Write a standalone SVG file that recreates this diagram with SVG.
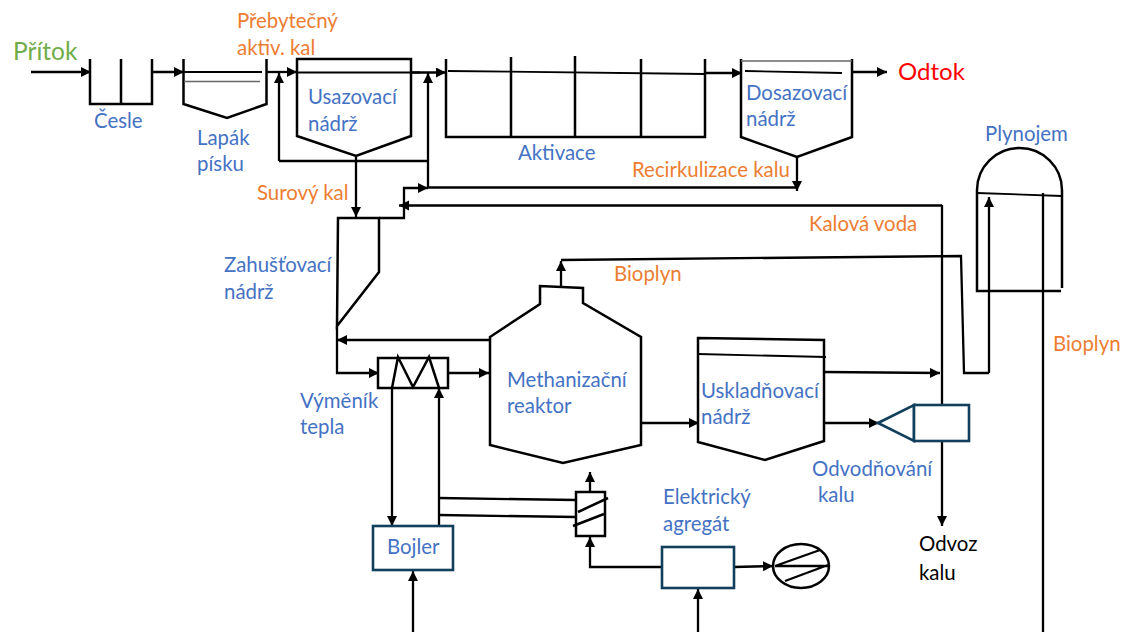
<svg xmlns="http://www.w3.org/2000/svg" width="1123" height="632" viewBox="0 0 1123 632">
<style>
text{font-family:Lato,"Liberation Sans",sans-serif;font-size:20.400px}
.b{fill:#4472c4}.o{fill:#ed7d31}.k{fill:#000}
.s{fill:none;stroke:#000;stroke-width:2.500}
.t{fill:none;stroke:#000;stroke-width:1.800}
.g{fill:none;stroke:#666;stroke-width:1.600}
.d{fill:#fff;stroke:#123f5c;stroke-width:2.600}
.c{fill:none;stroke:#000;stroke-width:2.300;marker-end:url(#a)}
.n{fill:none;stroke:#000;stroke-width:2.300}
</style>
<defs><marker id="a" markerUnits="userSpaceOnUse" markerWidth="12" markerHeight="12" refX="10" refY="5" orient="auto"><path d="M0 0L10 5L0 10Z" fill="#000"/></marker></defs>
<rect width="1123" height="632" fill="#fff"/>
<g id="connectors">
<path class="c" d="M31 72H91"/>
<path class="c" d="M151 72H184"/>
<path class="c" d="M267 72H297"/>
<path class="t" d="M297 72.500H420"/>
<path class="c" d="M411 72.500H446"/>
<path class="c" d="M279 161V73"/>
<path class="n" d="M279 161H428"/>
<path class="c" d="M428 188V73"/>
<path class="c" d="M356 157V217"/>
<path class="c" d="M379 218H404V188H428"/>
<path class="n" d="M428 187.500H797"/>
<path class="c" d="M797 157V191"/>
<path class="c" d="M942 205.500H399"/>
<path class="n" d="M942 205V405"/>
<path class="c" d="M942 441V526"/>
<path class="c" d="M490 340H337"/>
<path class="c" d="M337 326V373H379"/>
<path class="c" d="M448 373H489"/>
<path class="c" d="M392 388V526"/>
<path class="c" d="M439 526V388"/>
<path class="c" d="M413 632V571"/>
<path class="c" d="M698 632V589"/>
<path class="n" d="M439 498L576 500"/>
<path class="n" d="M439 515L576 517"/>
<path class="c" d="M590 492V472"/>
<path class="c" d="M662 567H590V537"/>
<path class="c" d="M734 567L773 566"/>
<path class="c" d="M641 423H699"/>
<path class="c" d="M824 372L940 373"/>
<path class="c" d="M824 423H879"/>
<path class="c" d="M705 73H742"/>
<path class="c" d="M852 72H887"/>
<path class="c" d="M561 287V261"/>
<path class="n" d="M561 260L961 256L964 373H989"/>
<path class="c" d="M989 373V197"/>
<path class="n" d="M1043 193V632"/>
</g>
<g id="cesle"><path class="s" d="M90 59V104H152V59M121 59V104"/><text class="b" x="94" y="128">Česle</text></g>
<g id="lapak"><path class="s" d="M183.500 59V104L227 118L266.500 104V59"/><path class="t" d="M184 72H262"/><path class="g" d="M184 81.500H260"/><text class="b" x="197" y="145">Lapák</text><text class="b" x="197" y="171">písku</text></g>
<g id="usazovaci"><path class="s" d="M297 59H411V136L356 156L297 136Z"/><text class="b" x="308" y="104">Usazovací</text><text class="b" x="308" y="131">nádrž</text></g>
<g id="aktivace"><path class="s" d="M446 59V137H705V59M511 57V137M575 56V137M641 59V137"/><path class="t" d="M448 71L705 74"/><text class="b" x="518" y="160">Aktivace</text></g>
<g id="dosazovaci"><path class="s" d="M741 59V137L797 157L852 137V59"/><path class="g" d="M741 61H852"/><path class="t" d="M745 71L842 73"/><text class="b" x="746" y="100">Dosazovací</text><text class="b" x="746" y="126">nádrž</text></g>
<g id="plynojem"><path class="s" d="M977 194V190A42.500 42 0 0 1 1062 190V194"/><path class="t" d="M977 193L1062 196"/><path class="s" d="M977 194V291H1061M1062 194V288"/><text class="b" x="985" y="141">Plynojem</text></g>
<g id="zahustovaci"><path class="s" d="M337 326L338 218H379V272Z"/><text class="b" x="224" y="272">Zahušťovací</text><text class="b" x="224" y="299">nádrž</text></g>
<g id="vymenik"><path class="s" d="M378 358H448V388H378Z"/><path class="s" d="M392 388L398 357L413 387L429 357L439 388"/><text class="b" x="300" y="408">Výměník</text><text class="b" x="300" y="434">tepla</text></g>
<g id="reaktor"><path class="s" d="M490 337L540 304V286L583 288V303L641 337V445L563 463L490 445Z"/><text class="b" x="507" y="387">Methanizační</text><text class="b" x="507" y="413">reaktor</text></g>
<g id="uskladnovaci"><path class="s" d="M698 338L824 340V441L765 460L698 442Z"/><path class="t" d="M698 354L826 357"/><text class="b" x="701" y="398">Uskladňovací</text><text class="b" x="701" y="424">nádrž</text></g>
<g id="odvodnovani"><path class="d" d="M878 423L914 405V441Z"/><rect class="d" x="914" y="405" width="55" height="36"/><text class="b" x="812" y="476">Odvodňování</text><text class="b" x="818" y="502">kalu</text></g>
<g id="bojler"><rect class="d" x="373" y="526" width="80" height="44"/><text class="b" x="387" y="554">Bojler</text></g>
<g id="vymenik2"><rect class="s" x="576" y="492" width="29" height="44"/><path class="s" d="M578 512L608 498M573 526L604 514"/></g>
<g id="agregat"><rect class="d" x="662" y="547" width="72" height="41"/><text class="b" x="663" y="504">Elektrický</text><text class="b" x="663" y="531">agregát</text></g>
<g id="generator"><ellipse class="s" cx="801" cy="566" rx="28" ry="22"/><path class="n" d="M775 566H829M775 566L820 550M785 581L828 565"/></g>
<g id="labels">
<text x="13" y="60" style="font-size:24.500px;fill:#70ad47">Přítok</text>
<text x="898" y="80" style="font-size:24px;fill:#f00">Odtok</text>
<text class="o" x="237" y="28">Přebytečný</text><text class="o" x="237" y="55">aktiv. kal</text>
<text class="o" x="257" y="200">Surový kal</text>
<text class="o" x="632" y="177">Recirkulizace kalu</text>
<text class="o" x="809" y="231">Kalová voda</text>
<text class="o" x="614" y="281">Bioplyn</text>
<text class="o" x="1053" y="351">Bioplyn</text>
<text class="k" x="919" y="551">Odvoz</text><text class="k" x="919" y="580">kalu</text>
</g>
</svg>
